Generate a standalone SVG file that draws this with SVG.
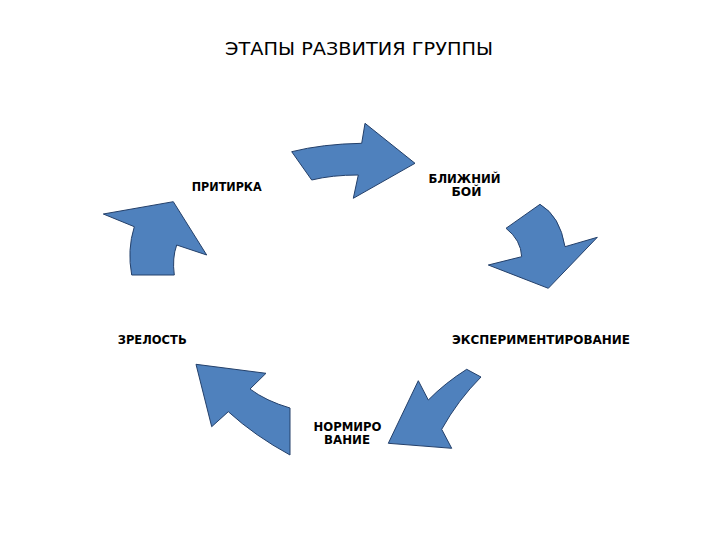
<svg xmlns="http://www.w3.org/2000/svg" width="720" height="540" viewBox="0 0 720 540">
<style>
.arrow{fill:#4F81BD;stroke:#24406a;stroke-width:1;stroke-linejoin:miter}
.title{font-family:"DejaVu Sans","Liberation Sans",sans-serif;font-size:17px;fill:#000}
.lbl{font-family:"DejaVu Sans","Liberation Sans",sans-serif;font-size:11.5px;font-weight:bold;fill:#000}
</style>
<rect width="720" height="540" fill="#fff"/>
<text class="title" x="359" y="55" text-anchor="middle" textLength="268" lengthAdjust="spacingAndGlyphs">ЭТАПЫ РАЗВИТИЯ ГРУППЫ</text>
<g id="connectors">
<path id="arrow1" class="arrow" d="M291.7,151.7 Q322,144 361.7,143.3 L365,123.3 L415,163.3 L353.3,198.3 L358.3,175 Q332,175 311.7,180 Z"/>
<path id="arrow2" class="arrow" d="M540,204.3 Q560,216 565,246.7 L597.3,237.3 L548.3,288.3 L488.3,265 L521.7,256.7 Q521,240 506,228.3 Z"/>
<path id="arrow3" class="arrow" d="M466.7,369.3 Q445,383 428.3,400 L418.3,380.7 L388.3,443.3 L451.7,448.3 L441.7,429.3 Q458,400 481,377 Z"/>
<path id="arrow4" class="arrow" d="M196,364.3 L266,373.3 L250,389 Q266,401 290,408 L290,455 Q255,436 228.3,411.7 L211.7,426.7 Z"/>
<path id="arrow5" class="arrow" d="M103.3,214 L173.3,201.7 L206.7,255 L176.7,245 Q172,258 174.3,275 L131.7,275 Q127,250 134.3,226.7 Z"/>
</g>
<g id="node-pritirka"><text class="lbl" x="191.7" y="190.7" textLength="70" lengthAdjust="spacingAndGlyphs">ПРИТИРКА</text></g>
<g id="node-blizhniy"><text class="lbl" x="464.5" y="183.3" text-anchor="middle" textLength="72" lengthAdjust="spacingAndGlyphs">БЛИЖНИЙ</text><text class="lbl" x="466.5" y="196" text-anchor="middle" textLength="30" lengthAdjust="spacingAndGlyphs">БОЙ</text></g>
<g id="node-experiment"><text class="lbl" x="452" y="344" textLength="178" lengthAdjust="spacingAndGlyphs">ЭКСПЕРИМЕНТИРОВАНИЕ</text></g>
<g id="node-normirovanie"><text class="lbl" x="347.5" y="430.7" text-anchor="middle" textLength="68" lengthAdjust="spacingAndGlyphs">НОРМИРО</text><text class="lbl" x="347" y="444" text-anchor="middle" textLength="46" lengthAdjust="spacingAndGlyphs">ВАНИЕ</text></g>
<g id="node-zrelost"><text class="lbl" x="117.7" y="344" textLength="69" lengthAdjust="spacingAndGlyphs">ЗРЕЛОСТЬ</text></g>
</svg>
